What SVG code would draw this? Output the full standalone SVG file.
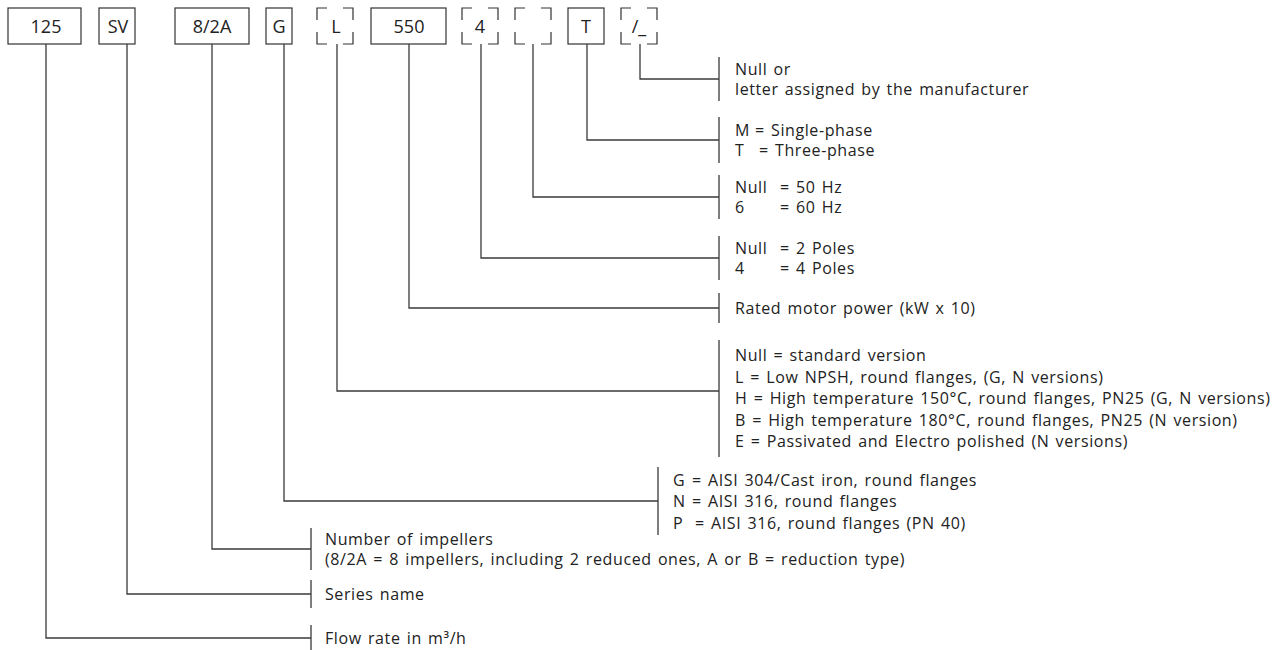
<svg xmlns="http://www.w3.org/2000/svg" xmlns:xlink="http://www.w3.org/1999/xlink" width="1274" height="650" viewBox="0 0 1274 650">
<style>
  .box { fill: #fff; stroke: #333; stroke-width: 1.2; }
  .dash { fill: none; stroke: #333; stroke-width: 1.2; }
  .code { font-family: "Open Sans", "Noto Sans", sans-serif; font-size: 18px; fill: #222; text-anchor: middle; }
  .lbl { font-family: "Open Sans", "Noto Sans", sans-serif; font-size: 16px; letter-spacing: 0.6px; word-spacing: 1.5px; fill: #222; }
  .conn { fill: none; stroke: #3a3a3a; stroke-width: 1.3; }
</style>
<defs>
  <path id="dbox" d="M0,12 V0 H10 M26,0 H36 V12 M36,24 V36 H26 M10,36 H0 V24"/>
</defs>
<rect width="1274" height="650" fill="#fff"/>

<g id="node-125"><rect class="box" x="8" y="8" width="73" height="36"/><text class="code" x="46" y="33">125</text></g>
<g id="node-sv"><rect class="box" x="99" y="8" width="36" height="36"/><text class="code" x="118" y="33">SV</text></g>
<g id="node-82a"><rect class="box" x="175" y="8" width="74" height="36"/><text class="code" x="212" y="33">8/2A</text></g>
<g id="node-g"><rect class="box" x="266" y="8" width="26" height="36"/><text class="code" x="279" y="33">G</text></g>
<g id="node-l"><use href="#dbox" class="dash" x="317" y="8"/><text class="code" x="336" y="33">L</text></g>
<g id="node-550"><rect class="box" x="371" y="8" width="75" height="36"/><text class="code" x="409" y="33">550</text></g>
<g id="node-4"><use href="#dbox" class="dash" x="462" y="8"/><text class="code" x="480" y="33">4</text></g>
<g id="node-hz"><use href="#dbox" class="dash" x="515" y="8"/></g>
<g id="node-t"><rect class="box" x="568" y="8" width="36" height="36"/><text class="code" x="586" y="33">T</text></g>
<g id="node-suffix"><use href="#dbox" class="dash" x="621" y="8"/><text class="code" x="639" y="33">/_</text></g>

<g id="connectors" class="conn">
  <path d="M640,44 V79 H719 M719,57 V101"/>
  <path d="M587,44 V140 H719 M719,117 V163"/>
  <path d="M533,44 V197 H719 M719,175 V219"/>
  <path d="M481,44 V258 H719 M719,236 V280"/>
  <path d="M409,44 V308 H719 M719,293 V323"/>
  <path d="M337,44 V391 H719 M719,340 V457"/>
  <path d="M284,44 V501 H658 M658,467 V535"/>
  <path d="M212,44 V549 H311 M311,528 V570"/>
  <path d="M127,44 V594 H311 M311,580 V608"/>
  <path d="M46,44 V638 H311 M311,625 V650"/>
</g>

<g id="label-suffix">
  <text class="lbl" x="735" y="75">Null or</text>
  <text class="lbl" x="735" y="95">letter assigned by the manufacturer</text>
</g>
<g id="label-phase">
  <text class="lbl" x="735" y="136">M<tspan x="755">= Single-phase</tspan></text>
  <text class="lbl" x="735" y="156">T<tspan x="759">= Three-phase</tspan></text>
</g>
<g id="label-hz">
  <text class="lbl" x="735" y="193">Null<tspan x="780">= 50 Hz</tspan></text>
  <text class="lbl" x="735" y="213">6<tspan x="780">= 60 Hz</tspan></text>
</g>
<g id="label-poles">
  <text class="lbl" x="735" y="254">Null<tspan x="780">= 2 Poles</tspan></text>
  <text class="lbl" x="735" y="274">4<tspan x="780">= 4 Poles</tspan></text>
</g>
<g id="label-power">
  <text class="lbl" x="735" y="314">Rated motor power (kW x 10)</text>
</g>
<g id="label-version">
  <text class="lbl" x="735" y="361">Null = standard version</text>
  <text class="lbl" x="735" y="383">L = Low NPSH, round flanges, (G, N versions)</text>
  <text class="lbl" x="735" y="404">H = High temperature 150°C, round flanges, PN25 (G, N versions)</text>
  <text class="lbl" x="735" y="426">B = High temperature 180°C, round flanges, PN25 (N version)</text>
  <text class="lbl" x="735" y="447">E = Passivated and Electro polished (N versions)</text>
</g>
<g id="label-material">
  <text class="lbl" x="673" y="486">G<tspan x="692">= AISI 304/Cast iron, round flanges</tspan></text>
  <text class="lbl" x="673" y="507">N<tspan x="692">= AISI 316, round flanges</tspan></text>
  <text class="lbl" x="673" y="529">P<tspan x="695">= AISI 316, round flanges (PN 40)</tspan></text>
</g>
<g id="label-impellers">
  <text class="lbl" x="325" y="545">Number of impellers</text>
  <text class="lbl" x="325" y="565">(8/2A = 8 impellers, including 2 reduced ones, A or B = reduction type)</text>
</g>
<g id="label-series">
  <text class="lbl" x="325" y="600">Series name</text>
</g>
<g id="label-flow">
  <text class="lbl" x="325" y="644">Flow rate in m³/h</text>
</g>
</svg>
